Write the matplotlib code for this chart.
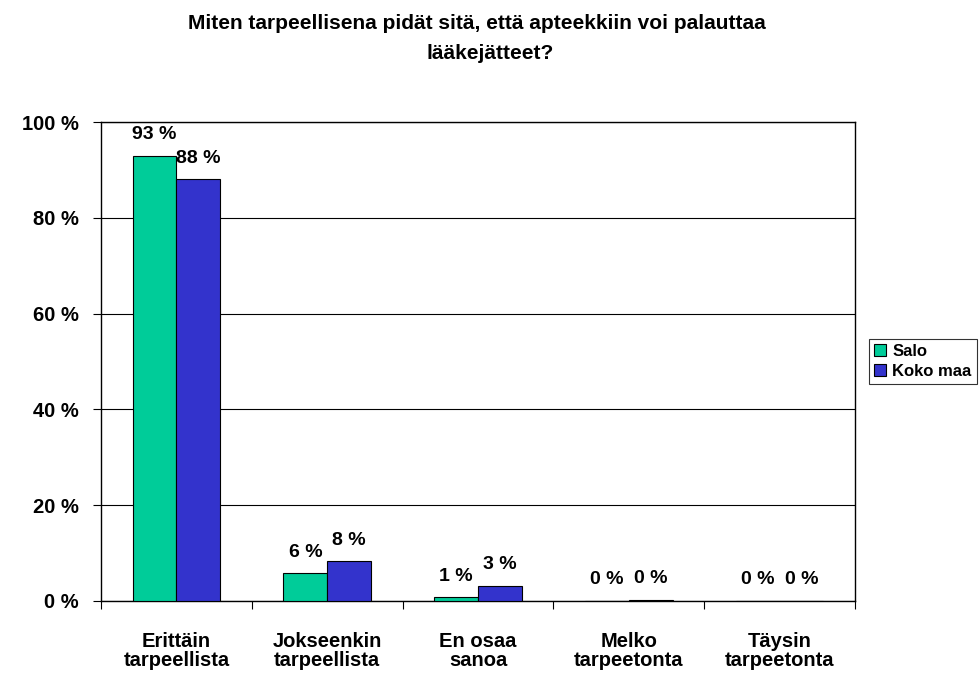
import matplotlib.pyplot as plt
import numpy as np

plt.rcParams["font.family"] = ["Liberation Sans", "DejaVu Sans"]
plt.rcParams["font.weight"] = "bold"

categories = ["Erittäin\ntarpeellista", "Jokseenkin\ntarpeellista", "En osaa\nsanoa",
              "Melko\ntarpeetonta", "Täysin\ntarpeetonta"]
salo = [93, 5.8, 0.8, 0, 0]
koko_maa = [88, 8.3, 3.1, 0.3, 0]
salo_labels = ["93 %", "6 %", "1 %", "0 %", "0 %"]
koko_labels = ["88 %", "8 %", "3 %", "0 %", "0 %"]
title_lines = ["Miten tarpeellisena pidät sitä, että apteekkiin voi palauttaa", "lääkejätteet?"]

fig = plt.figure(figsize=(9.8, 6.82), dpi=100)
ax = fig.add_axes([101 / 980, 1 - 601 / 682, 754 / 980, 479 / 682])

x = np.arange(len(categories))
w = 0.29
b1 = ax.bar(x - w / 2, salo, w, color="#00CC99", edgecolor="black", linewidth=0.8,
            label="Salo", zorder=3)
b2 = ax.bar(x + w / 2, koko_maa, w, color="#3333CC", edgecolor="black", linewidth=0.8,
            label="Koko maa", zorder=3)

for bars, labels in [(b1, salo_labels), (b2, koko_labels)]:
    for rect, lab in zip(bars, labels):
        ax.annotate(lab, (rect.get_x() + rect.get_width() / 2, rect.get_height()),
                    xytext=(0, 12), textcoords="offset points", ha="center", va="baseline",
                    fontsize=14, fontweight="bold")

ax.set_xlim(-0.5, len(categories) - 0.5)
ax.set_ylim(0, 100)
ax.set_yticks(range(0, 101, 20))
ax.set_yticklabels([f"{v} %" for v in range(0, 101, 20)], fontsize=14.5, fontweight="bold")
ax.yaxis.grid(True, color="black", linewidth=0.8, zorder=0)
ax.set_xticks(np.arange(-0.5, len(categories) - 0.4, 1.0))
ax.set_xticklabels([])
ax.set_xticks(x, minor=True)
ax.set_xticklabels(categories, minor=True, fontsize=14.5, fontweight="bold", linespacing=1.05)
ax.tick_params(axis="x", which="minor", length=0, pad=22)
ax.tick_params(axis="x", which="major", length=6, direction="out")
ax.tick_params(axis="y", length=6, direction="out", pad=10)
for sp in ax.spines.values():
    sp.set_linewidth(1.0)

# title: two lines placed separately (second line sits slightly right in the original)
for line, xpix, ypix in zip(title_lines, [477, 490], [29, 59]):
    fig.text(xpix / 980, 1 - ypix / 682, line, ha="center", va="baseline",
             fontsize=15, fontweight="bold")

leg = fig.legend(loc="upper left", bbox_to_anchor=(869 / 980, 1 - 339 / 682),
                 frameon=True, fancybox=False, edgecolor="black", fontsize=12,
                 handlelength=0.7, handleheight=0.7, handletextpad=0.4,
                 borderpad=0.3, labelspacing=0.3, borderaxespad=0)
leg.get_frame().set_linewidth(0.8)
for t in leg.get_texts():
    t.set_fontweight("bold")

fig.savefig("out.png", dpi=100)
